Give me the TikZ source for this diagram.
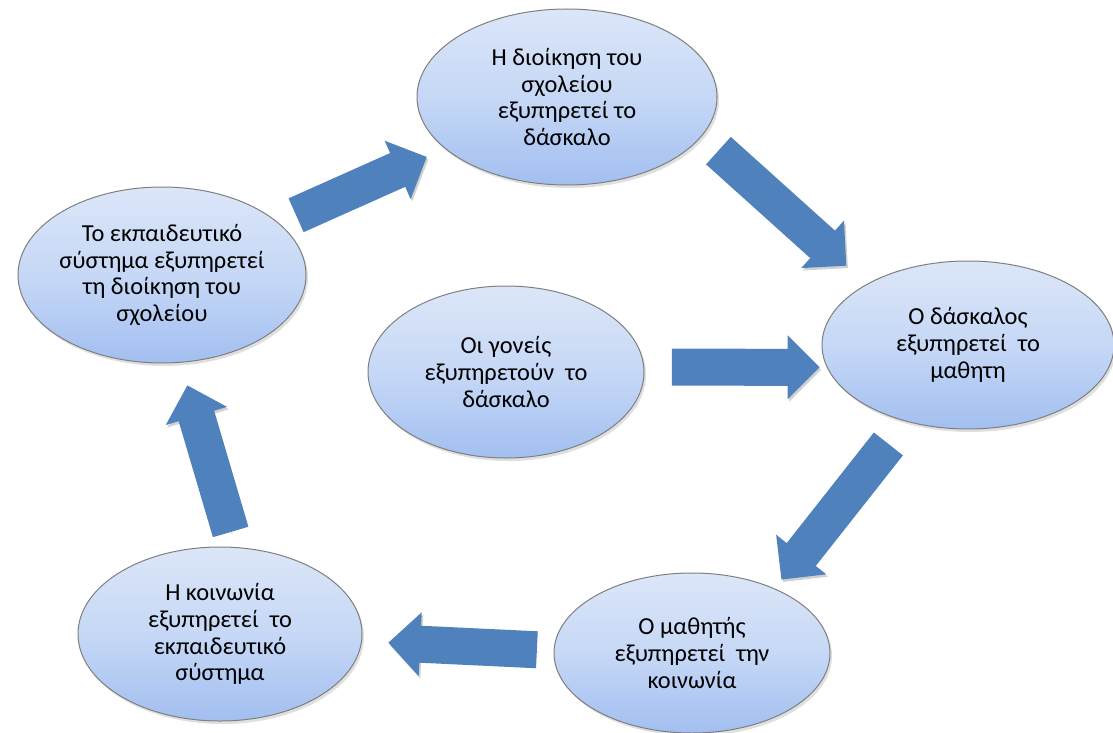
\documentclass[tikz,border=0pt]{standalone}
\usepackage{fontspec}
\setmainfont{Carlito}
\usetikzlibrary{arrows.meta,shapes.geometric,shadows}
\definecolor{arrowblue}{HTML}{4F81BD}
\definecolor{bubtop}{HTML}{DCE6F8}
\definecolor{bubmid}{HTML}{C6D8F6}
\definecolor{bubbot}{HTML}{A2BFF0}
\definecolor{bubline}{HTML}{7F7F7F}
\tikzset{
  bubble/.style={ellipse, draw=bubline, line width=0.5pt,
                 top color=bubtop, bottom color=bubbot, middle color=bubmid,
                 align=center, inner xsep=-14pt, inner ysep=-6pt, outer sep=0pt,
                 font=\fontsize{12.2}{13.4}\selectfont,
                 drop shadow={shadow xshift=1pt, shadow yshift=-1.5pt, opacity=0.25}},
  blockarr/.style={draw=arrowblue, line width=18.5pt,
                   -{Triangle[length=16pt,width=31pt]},
                   preaction={draw=black!18, transform canvas={xshift=0.8pt,yshift=-1.2pt}}}
}

\begin{document}
\begin{tikzpicture}[x=0.5pt,y=-0.5pt]
  \useasboundingbox (0,0) rectangle (1113,733);
  % circle of bubbles
  \node[bubble,minimum width=150pt,minimum height=88pt] (admin) at (567,97)
    {Η διοίκηση του\\σχολείου\\εξυπηρετεί το\\δάσκαλο};
  \node[bubble,minimum width=144pt,minimum height=88pt] (edusys) at (162,275)
    {Το εκπαιδευτικό\\σύστημα εξυπηρετεί\\τη διοίκηση του\\σχολείου};
  \node[bubble,minimum width=138pt,minimum height=86pt] (parents) at (506,372)
    {Οι γονείς\\εξυπηρετούν\ \ το\\δάσκαλο};
  \node[bubble,minimum width=146pt,minimum height=84pt] (teacher) at (968,345)
    {Ο δάσκαλος\\εξυπηρετεί\ \ το\\μαθητη};
  \node[bubble,minimum width=138pt,minimum height=80pt] (pupil) at (692,653)
    {Ο μαθητής\\εξυπηρετεί\ \ την\\κοινωνία};
  \node[bubble,minimum width=142pt,minimum height=87pt] (society) at (220,634)
    {Η κοινωνία\\εξυπηρετεί\ \ το\\εκπαιδευτικό\\σύστημα};

  % block arrows
  \draw[blockarr, shorten <=9.7pt, shorten >=10.2pt] (edusys.24) -- (admin.203);
  \draw[blockarr, shorten <=11.2pt, shorten >=13.9pt] (admin.-16) -- (teacher.149);
  \draw[blockarr, shorten <=14.1pt, shorten >=3.8pt] (parents.2) -- (teacher.189);
  \draw[blockarr, shorten <=14.5pt, shorten >=5.8pt] (teacher.231) -- (pupil.38);
  \draw[blockarr, shorten <=8.6pt, shorten >=13.4pt] (pupil.179) -- (society.-3);
  \draw[blockarr, shorten <=8.1pt, shorten >=12pt] (society.80) -- (edusys.282);
\end{tikzpicture}
\end{document}
